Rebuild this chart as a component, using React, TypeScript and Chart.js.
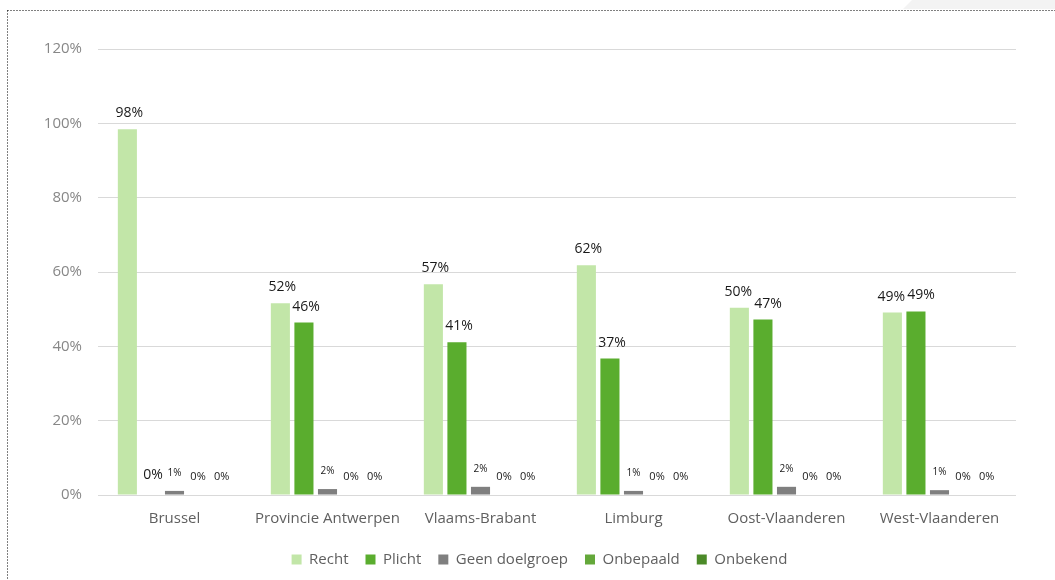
import React, { useEffect, useRef } from "react";
import { Chart, registerables } from "chart.js";

Chart.register(...registerables);

const categories = [
  "Brussel",
  "Provincie Antwerpen",
  "Vlaams-Brabant",
  "Limburg",
  "Oost-Vlaanderen",
  "West-Vlaanderen",
];
const recht = [98.4, 51.6, 56.7, 61.8, 50.4, 49.1];
const plicht = [0, 46.4, 41.1, 36.7, 47.2, 49.4];
const geenDoelgroep = [1.1, 1.6, 2.2, 1.1, 2.2, 1.3];
const onbepaald = [0, 0, 0, 0, 0, 0];
const onbekend = [0, 0, 0, 0, 0, 0];
const yTicks = [0, 20, 40, 60, 80, 100, 120];

const FONT = "'Open Sans', sans-serif";

const seriesStyle = [
  { label: "Recht", data: recht, color: "#c2e6a8", labelSize: 14 },
  { label: "Plicht", data: plicht, color: "#5aad2e", labelSize: 14 },
  { label: "Geen doelgroep", data: geenDoelgroep, color: "#7f7f7f", labelSize: 10 },
  { label: "Onbepaald", data: onbepaald, color: "#64a83a", labelSize: 11 },
  { label: "Onbekend", data: onbekend, color: "#4b8a28", labelSize: 11 },
];

const framePlugin = {
  id: "frame",
  afterLayout(chart: any) {
    const lg = chart.legend;
    if (lg) {
      lg.left = 63;
      lg.width = lg.right - lg.left;
    }
  },
  beforeDraw(chart: any) {
    const ctx = chart.ctx;
    ctx.save();
    ctx.fillStyle = "#f3f3f3";
    ctx.beginPath();
    ctx.moveTo(903, 9);
    ctx.lineTo(912, 0);
    ctx.lineTo(1055, 0);
    ctx.lineTo(1055, 9);
    ctx.closePath();
    ctx.fill();
    ctx.strokeStyle = "#000";
    ctx.lineWidth = 1;
    ctx.setLineDash([1, 2]);
    ctx.beginPath();
    ctx.moveTo(7.5, 10.5);
    ctx.lineTo(1055, 10.5);
    ctx.moveTo(7.5, 10.5);
    ctx.lineTo(7.5, 580);
    ctx.stroke();
    ctx.restore();
  },
};

const valueLabelPlugin = {
  id: "valueLabels",
  afterDatasetsDraw(chart: any) {
    const ctx = chart.ctx;
    ctx.save();
    ctx.fillStyle = "#1a1a1a";
    ctx.textAlign = "center";
    ctx.textBaseline = "alphabetic";
    const n = chart.data.labels.length;
    for (let i = 0; i < n; i++) {
      const items: any[] = [];
      chart.data.datasets.forEach((ds: any, di: number) => {
        const el = chart.getDatasetMeta(di).data[i];
        const size = seriesStyle[di].labelSize;
        const r = Math.round(ds.data[i]);
        const big = size >= 14;
        const offset = big ? (r === 0 ? 16 : 12) : 15;
        ctx.font = `${size}px ${FONT}`;
        const text = `${r}%`;
        const w = ctx.measureText(text).width;
        items.push({ text, size, x: el.x + (big ? 2 : 0), y: el.y - offset, w });
      });
      // push the two big labels apart when they collide
      const a = items[0];
      const b = items[1];
      const vOverlap = Math.abs(a.y - b.y) < a.size;
      const need = (a.w + b.w) / 2 + 2;
      const dist = b.x - a.x;
      if (vOverlap && dist < need) {
        const shift = (need - dist) / 2;
        a.x -= shift;
        b.x += shift;
      }
      items.forEach((it) => {
        ctx.font = `${it.size}px ${FONT}`;
        ctx.fillText(it.text, it.x, it.y);
      });
    }
    ctx.restore();
  },
};

export default function App() {
  const ref = useRef<HTMLCanvasElement>(null);
  useEffect(() => {
    if (!ref.current) return;
    const chart = new Chart(ref.current, {
      type: "bar",
      data: {
        labels: categories,
        datasets: seriesStyle.map((s) => ({
          label: s.label,
          data: s.data,
          backgroundColor: s.color,
          borderWidth: 0,
          categoryPercentage: 0.77,
          barPercentage: 0.81,
        })),
      },
      options: {
        animation: false,
        responsive: false,
        maintainAspectRatio: false,
        layout: { padding: { left: 20, right: 39, top: 49, bottom: 3 } },
        plugins: {
          tooltip: { enabled: false },
          legend: {
            position: "bottom",
            labels: {
              boxWidth: 10,
              boxHeight: 10,
              padding: 17,
              color: "#5f5f5f",
              font: { size: 15, family: FONT },
            },
          },
        },
        scales: {
          x: {
            grid: { display: false, drawTicks: false },
            border: { display: false },
            ticks: {
              color: "#5f5f5f",
              padding: 15,
              font: { size: 15, family: FONT },
            },
            afterFit(scale: any) {
              scale.height = 40;
            },
          },
          y: {
            min: 0,
            max: 120,
            afterBuildTicks(scale: any) {
              scale.ticks = yTicks.map((v) => ({ value: v }));
            },
            grid: { color: "#d9d9d9", lineWidth: 1, drawTicks: false },
            border: { display: false },
            ticks: {
              color: "#878787",
              padding: 16,
              font: { size: 15, family: FONT },
              callback: (v: any) => `${v}%`,
            },
            afterFit(scale: any) {
              scale.width = 78;
            },
          },
        },
      },
      plugins: [framePlugin, valueLabelPlugin],
    });
    return () => chart.destroy();
  }, []);
  return (
    <div style={{ position: "fixed", left: 0, top: 0, width: 1055, height: 580, background: "#fff" }}>
      <canvas ref={ref} width={1055} height={580} style={{ display: "block" }} />
    </div>
  );
}
